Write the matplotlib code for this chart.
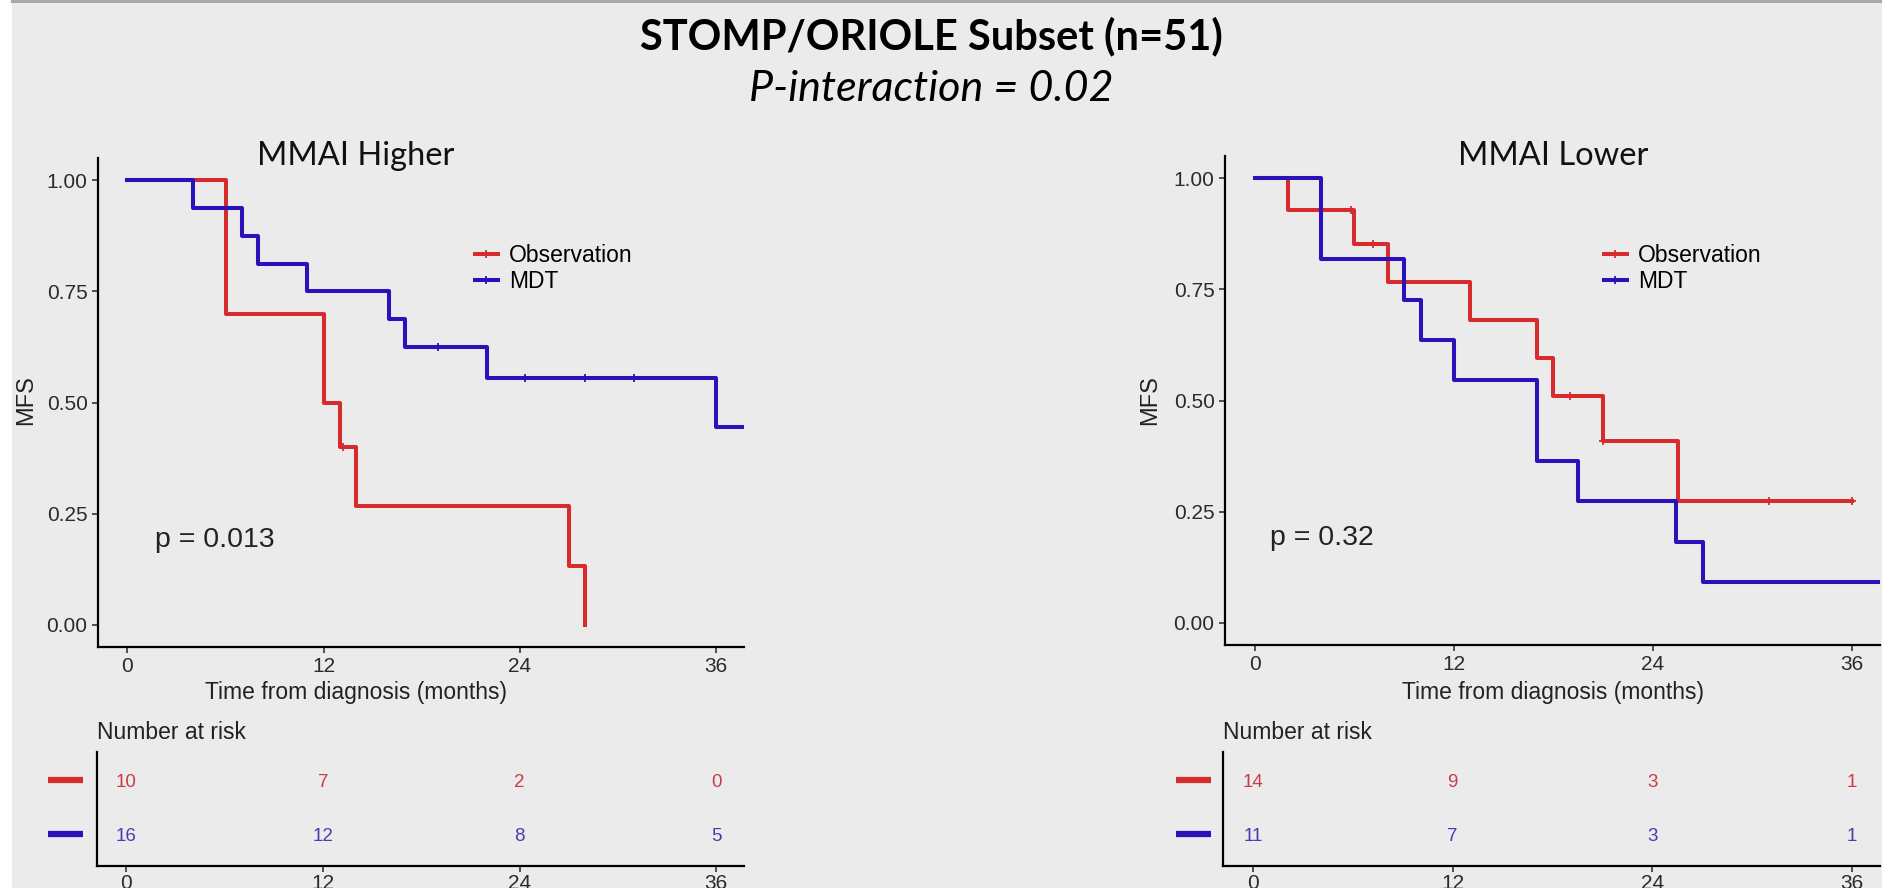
import matplotlib.pyplot as plt
from matplotlib.lines import Line2D

W, H = 1883, 888
BG = '#ebebeb'
RED = '#d62c2e'
BLUE = '#2a12ba'

# Kaplan-Meier steps (months, MFS) for each panel
hi_obs_t = [0, 6, 12, 13, 14, 27, 28]
hi_obs_s = [1.0, 0.70, 0.50, 0.40, 0.267, 0.133, 0.0]
hi_obs_cens_t = [13.2]
hi_obs_cens_s = [0.40]

hi_mdt_t = [0, 4, 7, 8, 11, 16, 17, 22, 36, 38]
hi_mdt_s = [1.0, 0.9375, 0.875, 0.8125, 0.75, 0.6875, 0.625, 0.556, 0.444, 0.444]
hi_mdt_cens_t = [19, 24.3, 28, 31]
hi_mdt_cens_s = [0.625, 0.556, 0.556, 0.556]

lo_obs_t = [0, 2, 6, 8, 13, 17, 18, 21, 25.5, 36]
lo_obs_s = [1.0, 0.929, 0.851, 0.766, 0.681, 0.596, 0.511, 0.409, 0.273, 0.273]
lo_obs_cens_t = [5.8, 7.1, 19, 21, 31, 36]
lo_obs_cens_s = [0.929, 0.851, 0.511, 0.409, 0.273, 0.273]

lo_mdt_t = [0, 4, 9, 10, 12, 17, 19.5, 25.4, 27, 38]
lo_mdt_s = [1.0, 0.818, 0.727, 0.636, 0.545, 0.364, 0.273, 0.182, 0.091, 0.091]
lo_mdt_cens_t = []
lo_mdt_cens_s = []

risk_times = [0, 12, 24, 36]
hi_risk_obs = [10, 7, 2, 0]
hi_risk_mdt = [16, 12, 8, 5]
lo_risk_obs = [14, 9, 3, 1]
lo_risk_mdt = [11, 7, 3, 1]

p_values = ['p = 0.013', 'p = 0.32']
panel_titles = ['MMAI Higher', 'MMAI Lower']


def box(x0, y0, x1, y1):
    # pixel box (top-left origin) -> figure fraction rect
    return [x0 / W, 1 - y1 / H, (x1 - x0) / W, (y1 - y0) / H]


def fx(x):
    return x / W


def fy(y):
    return 1 - y / H


plt.rcParams['font.family'] = ['Liberation Sans', 'DejaVu Sans']

fig = plt.figure(figsize=(W / 100, H / 100), dpi=100, facecolor=BG)

# white strip on the left and grey rule along the top
fig.patches.append(plt.Rectangle((0, 0), 12 / W, 1, transform=fig.transFigure,
                                 facecolor='white', edgecolor='none'))
fig.add_artist(Line2D([12 / W, 1], [1 - 1.5 / H, 1 - 1.5 / H], color='#a8a8a8', lw=2.2))

fig.text(fx(931), fy(36), 'STOMP/ORIOLE Subset (n=51)', ha='center', va='center',
         family='Lato', weight='bold', fontsize=30)
fig.text(fx(931), fy(89), 'P-interaction = 0.02', ha='center', va='center',
         family='Lato', style='italic', fontsize=31)


def style_axes(ax):
    ax.set_facecolor(BG)
    for s in ['top', 'right']:
        ax.spines[s].set_visible(False)
    for s in ['left', 'bottom']:
        ax.spines[s].set_linewidth(1.6)
        ax.spines[s].set_color('black')
    ax.tick_params(width=1.2, length=4, color='#333333', labelsize=15,
                   labelcolor='#2b2b2b')


def km_panel(rect, curves, pval, p_x, title, center_x, leg_x, ylab_x):
    ax = fig.add_axes(box(*rect))
    style_axes(ax)
    for t, s, ct, cs, col in curves:
        ax.step(t, s, where='post', color=col, lw=2.9)
        ax.plot(ct, cs, ls='none', marker='+', ms=5.5, mew=1.3, color=col)
    ax.set_xlim(-1.8, 37.7)
    ax.set_ylim(-0.05, 1.05)
    ax.set_xticks(risk_times)
    ax.set_yticks([0, 0.25, 0.5, 0.75, 1.0])
    ax.set_yticklabels(['0.00', '0.25', '0.50', '0.75', '1.00'])
    ax.text(p_x, 0.19, pval, fontsize=20.5, color='#222222', va='center')
    fig.text(fx(center_x), fy(693), 'Time from diagnosis (months)', ha='center',
             va='center', fontsize=16.5, color='#222222')
    fig.text(fx(ylab_x), fy(400), 'MFS', rotation=90, ha='center', va='center',
             fontsize=17, color='#222222')
    fig.text(fx(center_x), fy(156), title, ha='center', va='center', family='Lato',
             fontsize=23.5, color='#111111')
    handles = [Line2D([], [], color=RED, lw=2.9, marker='+', ms=5.5, mew=1.3),
               Line2D([], [], color=BLUE, lw=2.9, marker='+', ms=5.5, mew=1.3)]
    fig.legend(handles, ['Observation', 'MDT'], loc='upper left',
               bbox_to_anchor=(fx(leg_x), fy(244)), frameon=False, fontsize=16.5,
               handlelength=1.0, handletextpad=0.5, labelspacing=0.12, borderpad=0,
               borderaxespad=0)
    return ax


def risk_table(rect, obs, mdt, dash_x):
    ax = fig.add_axes(box(*rect))
    style_axes(ax)
    ax.set_xlim(-1.8, 37.7)
    ax.set_ylim(0.46, 2.57)
    ax.set_xticks(risk_times)
    ax.set_yticks([])
    for t, n in zip(risk_times, obs):
        ax.text(t, 2, str(n), ha='center', va='center', fontsize=13.5, color='#cc3b47')
    for t, n in zip(risk_times, mdt):
        ax.text(t, 1, str(n), ha='center', va='center', fontsize=13.5, color='#4a3cb0')
    tr = ax.get_yaxis_transform()
    for y, col in [(2.05, RED), (1.05, BLUE)]:
        ax.plot([dash_x[0], dash_x[1]], [y, y], color=col, lw=4.5, transform=tr,
                clip_on=False, solid_capstyle='butt')
    ax.tick_params(pad=2)
    return ax


km_panel((98, 158, 744, 647),
         [(hi_obs_t, hi_obs_s, hi_obs_cens_t, hi_obs_cens_s, RED),
          (hi_mdt_t, hi_mdt_s, hi_mdt_cens_t, hi_mdt_cens_s, BLUE)],
         p_values[0], 1.7, panel_titles[0], 356, 475, 26)
km_panel((1225, 156, 1880, 645),
         [(lo_obs_t, lo_obs_s, lo_obs_cens_t, lo_obs_cens_s, RED),
          (lo_mdt_t, lo_mdt_s, lo_mdt_cens_t, lo_mdt_cens_s, BLUE)],
         p_values[1], 0.9, panel_titles[1], 1553, 1604, 1150)

fig.text(fx(97), fy(732), 'Number at risk', ha='left', va='center', fontsize=16.5,
         color='#222222')
fig.text(fx(1223), fy(732), 'Number at risk', ha='left', va='center', fontsize=16.5,
         color='#222222')

risk_table((97, 752, 744, 866), hi_risk_obs, hi_risk_mdt,
           (-49 / 647, -14 / 647))
risk_table((1223, 752, 1880, 866), lo_risk_obs, lo_risk_mdt,
           (-47 / 657, -12 / 657))

fig.savefig('out.png', dpi=100, facecolor=BG)
